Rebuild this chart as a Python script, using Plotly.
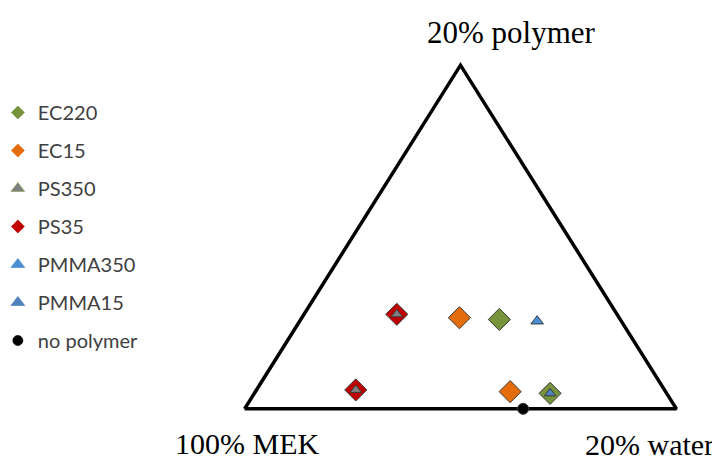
import plotly.graph_objects as go

# Compositions (wt%): polymer and water, remainder MEK
ec220_polymer = [5.2, 0.9]
ec220_water = [9.2, 13.7]
ec15_polymer = [5.3, 1.0]
ec15_water = [7.3, 11.8]
ps35_polymer = [5.5, 1.1]
ps35_water = [4.3, 4.6]
ps350_polymer = [5.5, 1.1]
ps350_water = [4.3, 4.6]
pmma350_polymer = [5.1]
pmma350_water = [11.0]
pmma15_polymer = [0.9]
pmma15_water = [13.7]
nopoly_polymer = [0.0]
nopoly_water = [12.9]

# Triangle vertices: 100% MEK, 20% polymer, 20% water
vertex_polymer = [0, 20, 0, 0]
vertex_water = [0, 0, 20, 0]
SCALE = 20.0

vertex_labels = ["100% MEK", "20% polymer", "20% water"]


def to_xy(polymer, water):
    xs, ys = [], []
    for p, w in zip(polymer, water):
        pn, wn = p / SCALE, w / SCALE
        xs.append(wn + pn / 2)
        ys.append(pn)
    return xs, ys


fig = go.Figure()

vx, vy = to_xy(vertex_polymer, vertex_water)
fig.add_trace(go.Scatter(x=vx, y=vy, mode="lines", line=dict(color="black", width=3.5),
                         showlegend=False, hoverinfo="skip"))

outline = dict(color="#3a3a3a", width=1)
series = [
    ("EC220", ec220_polymer, ec220_water, "diamond", "#77933C", 17, 10),
    ("EC15", ec15_polymer, ec15_water, "diamond", "#E46C0A", 17, 10),
    ("PS35", ps35_polymer, ps35_water, "diamond", "#C00000", 17, 10),
    ("PS350", ps350_polymer, ps350_water, "triangle-up", "#7F7F7F", 10, 12),
    ("PMMA350", pmma350_polymer, pmma350_water, "triangle-up", "#4A8FD6", 11, 12),
    ("PMMA15", pmma15_polymer, pmma15_water, "triangle-up", "#4F81BD", 10, 12),
    ("no polymer", nopoly_polymer, nopoly_water, "circle", "#000000", 11, 10),
]

for name, pp, ww, sym, col, size, lsize in series:
    x, y = to_xy(pp, ww)
    fig.add_trace(go.Scatter(x=x, y=y, mode="markers", name=name, showlegend=False,
                             cliponaxis=False,
                             marker=dict(symbol=sym, color=col, size=size, line=outline)))

legend_order = ["EC220", "EC15", "PS350", "PS35", "PMMA350", "PMMA15", "no polymer"]
lookup = {s[0]: s for s in series}
for name in legend_order:
    _, _, _, sym, col, _, lsize = lookup[name]
    lcol_line = "#8FA85A" if name == "PS350" else col
    fig.add_trace(go.Scatter(x=[None], y=[None], mode="markers", name=name,
                             legendgroup=name,
                             marker=dict(symbol=sym, color=col, size=lsize,
                                         line=dict(color=lcol_line, width=0.7))))

fig.add_annotation(x=0, y=0, xref="x", yref="y", text=vertex_labels[0], showarrow=False,
                   xanchor="center", yanchor="middle", xshift=2, yshift=-35,
                   font=dict(family="Liberation Serif", size=30, color="black"))
fig.add_annotation(x=0.5, y=1, xref="x", yref="y", text=vertex_labels[1], showarrow=False,
                   xanchor="center", yanchor="middle", xshift=51, yshift=33,
                   font=dict(family="Liberation Serif", size=31, color="black"))
fig.add_annotation(x=1, y=0, xref="x", yref="y", text=vertex_labels[2], showarrow=False,
                   xanchor="center", yanchor="middle", xshift=-27, yshift=-36,
                   font=dict(family="Liberation Serif", size=30, color="black"))

fig.update_layout(
    width=712, height=451,
    margin=dict(l=215, r=22, t=40, b=33, autoexpand=False),
    paper_bgcolor="white", plot_bgcolor="white",
    xaxis=dict(range=[-0.05, 1.05], visible=False, fixedrange=True),
    yaxis=dict(range=[-0.05, 1.05], visible=False, fixedrange=True),
    legend=dict(xref="paper", yref="container", x=-0.474, y=1 - 85 / 451,
                xanchor="left", yanchor="top", maxheight=400,
                font=dict(family="Lato", size=20, color="#404040"),
                tracegroupgap=9, itemwidth=30),
    showlegend=True,
)

fig.write_html("out.html")
